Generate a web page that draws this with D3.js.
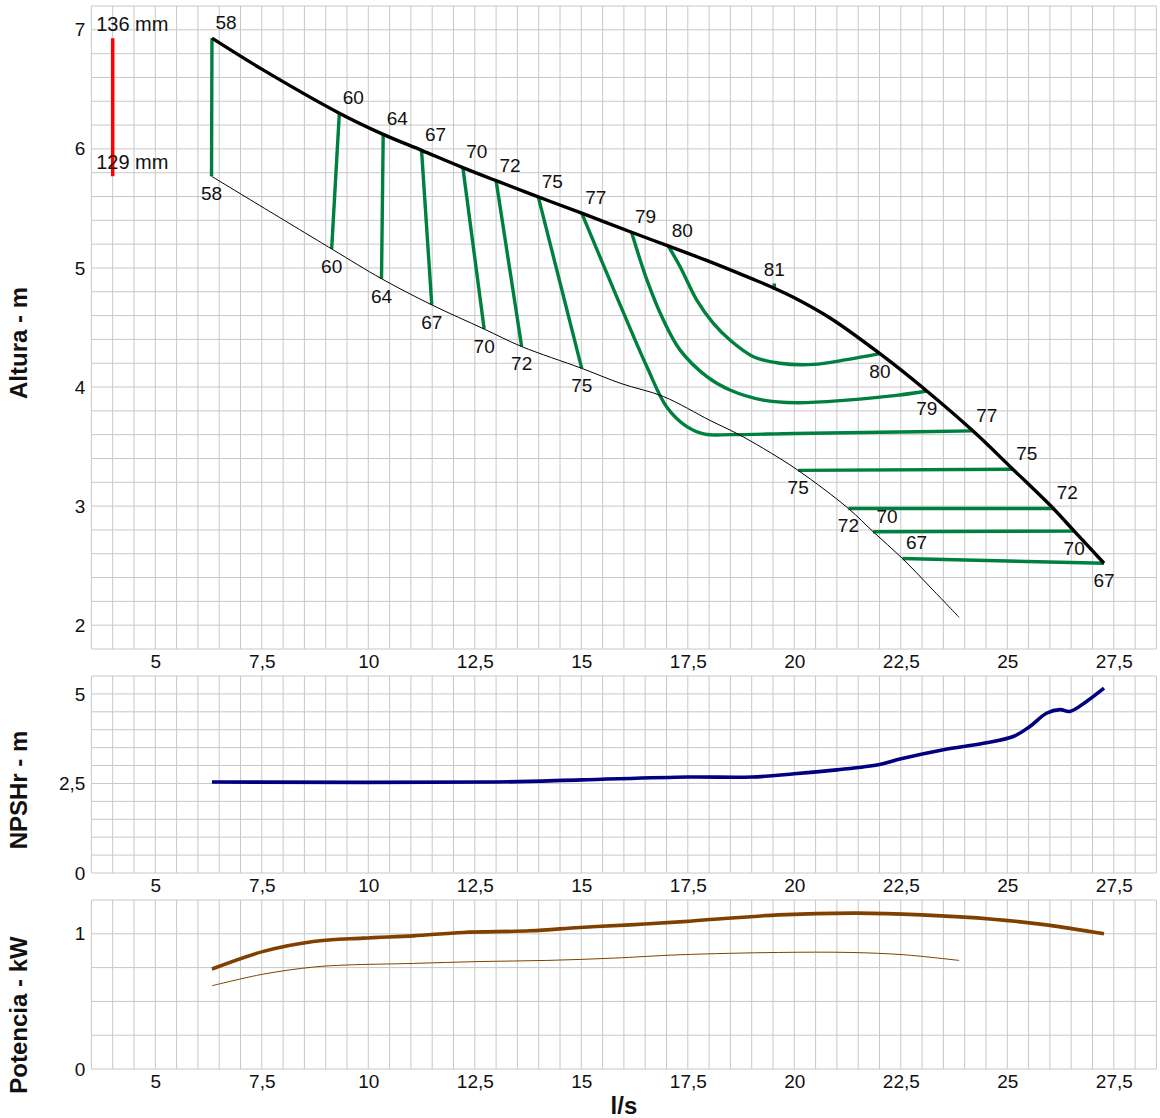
<!DOCTYPE html>
<html><head><meta charset="utf-8">
<script src="https://cdn.jsdelivr.net/npm/d3@7"></script>
<style>
body{margin:0;background:#fff}
svg{display:block}
text{font-family:"Liberation Sans",Arial,Helvetica,sans-serif}
</style>
</head><body>
<svg id="chart" width="1160" height="1118"></svg>
<script>
// ---------- data ----------
const xTicks = [5, 7.5, 10, 12.5, 15, 17.5, 20, 22.5, 25, 27.5];
const headTicks = [2, 3, 4, 5, 6, 7];
const npshTicks = [0, 2.5, 5];
const powerTicks = [0, 1];
const diameters = [136, 129];
const diameterQ = 4.0;

// H-Q curve, max diameter (136 mm)
const headMax = [[6.33,6.93],[7.5,6.67],[9.32,6.30],[10.35,6.122],[11.25,5.988],[12.22,5.843],[13.0,5.733],[13.99,5.597],[15.01,5.46],[16.18,5.30],[17.04,5.185],[18.0,5.055],[19.0,4.91],[19.53,4.83],[20.0,4.75],[20.84,4.58],[22.01,4.28],[23.11,3.967],[24.19,3.632],[25.13,3.31],[26.08,2.98],[26.57,2.79],[27.27,2.52]];
// H-Q curve, min diameter (129 mm)
const headMin = [[6.32,5.77],[9.14,5.16],[10.31,4.91],[11.49,4.69],[12.72,4.487],[13.6,4.34],[15.01,4.157],[15.93,4.03],[16.93,3.92],[18.02,3.72],[18.65,3.61],[19.27,3.485],[20.09,3.30],[21.27,2.98],[21.85,2.785],[22.54,2.56],[23.19,2.32],[23.87,2.066]];

// iso-efficiency lines (%)
const effLevels = [58, 60, 64, 67, 70, 72, 75, 77, 79, 80, 81, 75, 72, 70, 67];
const effLines = [
  [[6.33,6.93],[6.32,5.77]],
  [[9.32,6.30],[9.14,5.16]],
  [[10.35,6.122],[10.31,4.91]],
  [[11.25,5.988],[11.49,4.69]],
  [[12.22,5.843],[12.72,4.487]],
  [[13.0,5.733],[13.6,4.34]],
  [[13.99,5.597],[15.01,4.157]],
  [[15.01,5.46],[15.83,4.76],[16.54,4.17],[17.0,3.835],[17.47,3.67],[17.9,3.605],[18.5,3.60],[20.0,3.61],[22.0,3.62],[24.19,3.632]],
  [[16.18,5.30],[16.54,4.90],[16.93,4.56],[17.32,4.31],[17.94,4.09],[18.49,3.975],[19.27,3.89],[20.06,3.868],[21.23,3.89],[22.4,3.93],[23.11,3.967]],
  [[17.04,5.185],[17.32,5.01],[17.71,4.73],[18.1,4.535],[18.49,4.395],[19.04,4.255],[19.66,4.20],[20.45,4.19],[21.23,4.23],[22.01,4.28]],
  [[19.53,4.87],[19.53,4.82]],
  [[20.09,3.30],[25.13,3.31]],
  [[21.27,2.98],[26.08,2.98]],
  [[21.85,2.785],[26.57,2.79]],
  [[22.54,2.56],[27.27,2.52]]
];
// where the value label sits at [start, end] of each line
const effLabelSides = [
  ["ur","b"],["ur","b"],["ur","b"],["ur","b"],["ur","b"],["ur","b"],["ur","b"],
  ["ur","ur"],["ur","b"],["ur","b"],["u",null],
  ["b","ur"],["b","ur"],["ur","b"],["ur","b"]
];

// NPSHr
const npshQ = [6.33, 13.0, 15.0, 17.5, 19.0, 20.0, 21.0, 22.0, 22.48, 23.5, 24.44, 25.14, 25.53, 25.92, 26.24, 26.47, 26.86, 27.27];
const npshV = [2.54, 2.54, 2.60, 2.68, 2.68, 2.77, 2.88, 3.03, 3.18, 3.44, 3.62, 3.81, 4.09, 4.46, 4.56, 4.51, 4.79, 5.16];

// Power
const powerMaxQ = [6.33, 7.54, 8.71, 9.88, 11.06, 12.23, 13.8, 14.97, 16.14, 17.4, 19.63, 21.47, 22.98, 24.66, 25.92, 27.27];
const powerMaxV = [0.74, 0.87, 0.943, 0.968, 0.985, 1.01, 1.022, 1.047, 1.066, 1.09, 1.14, 1.153, 1.14, 1.108, 1.066, 1.0];
const powerMinQ = [6.33, 7.54, 8.71, 9.49, 11.06, 12.62, 14.19, 15.75, 17.32, 19.63, 21.31, 22.57, 23.87];
const powerMinV = [0.616, 0.702, 0.754, 0.769, 0.781, 0.795, 0.803, 0.82, 0.845, 0.862, 0.862, 0.845, 0.803];

// ---------- drawing ----------
const svg = d3.select("#chart");
const locale = d3.formatLocale({decimal: ",", thousands: ".", grouping: [3], currency: ["", "€"]});
const fmt = locale.format(".1~f");

const X0 = 91.4, X1 = 1156.4;
const x = d3.scaleLinear().domain([3.5, 28.5]).range([X0, X1]);

const GRID = "#c8c8c8";
const FONT = 19;

const panels = [
  {top: 6, bottom: 649, domain: [1.8, 7.2], step: 0.2, ticks: headTicks, title: "Altura - m", titleY: 343},
  {top: 676, bottom: 873, domain: [0, 5.5], step: 0.5, ticks: npshTicks, title: "NPSHr - m", titleY: 790},
  {top: 900, bottom: 1069, domain: [0, 1.25], step: 0.25, ticks: powerTicks, title: "Potencia - kW", titleY: 1015}
];

panels.forEach(p => {
  p.y = d3.scaleLinear().domain(p.domain).range([p.bottom, p.top]);
  const g = svg.append("g");
  // vertical grid
  const xs = d3.range(3.5, 28.5001, 0.5);
  g.selectAll("line.vx").data(xs).join("line")
    .attr("x1", d => x(d)).attr("x2", d => x(d))
    .attr("y1", p.top).attr("y2", p.bottom)
    .attr("stroke", GRID).attr("stroke-width", 1);
  // horizontal grid
  const n = Math.round((p.domain[1] - p.domain[0]) / p.step);
  const ys = d3.range(0, n + 1).map(i => p.domain[0] + i * p.step);
  g.selectAll("line.hy").data(ys).join("line")
    .attr("x1", X0).attr("x2", X1)
    .attr("y1", d => p.y(d)).attr("y2", d => p.y(d))
    .attr("stroke", GRID).attr("stroke-width", 1);

  // x axis labels
  const ax = svg.append("g").attr("transform", `translate(0,${p.bottom})`)
    .call(d3.axisBottom(x).tickValues(xTicks).tickSize(0).tickPadding(4).tickFormat(fmt));
  ax.select(".domain").remove();
  ax.selectAll("text").attr("font-size", FONT).attr("fill", "#111")
    .attr("font-family", '"Liberation Sans",Arial,sans-serif').attr("dy", "0.8em");

  // y axis labels
  const ay = svg.append("g").attr("transform", `translate(${X0},0)`)
    .call(d3.axisLeft(p.y).tickValues(p.ticks).tickSize(0).tickPadding(6).tickFormat(fmt));
  ay.select(".domain").remove();
  ay.selectAll("text").attr("font-size", FONT).attr("fill", "#111")
    .attr("font-family", '"Liberation Sans",Arial,sans-serif');

  // title
  svg.append("text")
    .attr("transform", `translate(27,${p.titleY}) rotate(-90)`)
    .attr("text-anchor", "middle")
    .attr("font-size", 24).attr("font-weight", "bold").attr("fill", "#111")
    .text(p.title);
});

svg.append("text").attr("x", (X0 + X1) / 2).attr("y", 1114)
  .attr("text-anchor", "middle").attr("font-size", 24).attr("font-weight", "bold").attr("fill", "#111")
  .text("l/s");

// ----- head panel -----
const yH = panels[0].y;
const lineH = d3.line().x(d => x(d[0])).y(d => yH(d[1])).curve(d3.curveCatmullRom.alpha(0.5));

// green iso-efficiency lines
const gEff = svg.append("g");
gEff.selectAll("path").data(effLines).join("path")
  .attr("d", lineH).attr("fill", "none")
  .attr("stroke", "#00803f").attr("stroke-width", 3.4);

// head curves
svg.append("path").datum(headMin).attr("d", lineH).attr("fill", "none")
  .attr("stroke", "#000").attr("stroke-width", 1);
svg.append("path").datum(headMax).attr("d", lineH).attr("fill", "none")
  .attr("stroke", "#000").attr("stroke-width", 3.4);

// efficiency labels
const offsets = {ur: [14, -16], b: [0, 17], u: [0, -14]};
const labels = [];
effLines.forEach((pts, i) => {
  const [s, e] = effLabelSides[i];
  if (s) labels.push({p: pts[0], side: s, t: effLevels[i]});
  if (e) labels.push({p: pts[pts.length - 1], side: e, t: effLevels[i]});
});
svg.append("g").selectAll("text").data(labels).join("text")
  .attr("x", d => x(d.p[0]) + offsets[d.side][0])
  .attr("y", d => yH(d.p[1]) + offsets[d.side][1])
  .attr("dy", "0.36em")
  .attr("text-anchor", "middle").attr("font-size", FONT).attr("fill", "#111")
  .text(d => d.t);

// diameter bar
const dTop = headMax[0][1], dBot = headMin[0][1];
svg.append("line")
  .attr("x1", x(diameterQ)).attr("x2", x(diameterQ))
  .attr("y1", yH(dTop)).attr("y2", yH(dBot))
  .attr("stroke", "#ff0000").attr("stroke-width", 3.5);
svg.append("g").selectAll("text").data(diameters).join("text")
  .attr("x", x(diameterQ) - 16.5)
  .attr("y", (d, i) => yH(i === 0 ? dTop : dBot) - 7)
  .attr("font-size", FONT + 1).attr("fill", "#111")
  .text(d => `${d} mm`);

// ----- NPSH panel -----
const yN = panels[1].y;
svg.append("path").datum(npshQ.map((q, i) => [q, npshV[i]]))
  .attr("d", d3.line().x(d => x(d[0])).y(d => yN(d[1])).curve(d3.curveCatmullRom.alpha(0.5)))
  .attr("fill", "none").attr("stroke", "#000080").attr("stroke-width", 3.6);

// ----- Power panel -----
const yP = panels[2].y;
const lineP = d3.line().x(d => x(d[0])).y(d => yP(d[1])).curve(d3.curveCatmullRom.alpha(0.5));
svg.append("path").datum(powerMinQ.map((q, i) => [q, powerMinV[i]]))
  .attr("d", lineP).attr("fill", "none").attr("stroke", "#804000").attr("stroke-width", 1);
svg.append("path").datum(powerMaxQ.map((q, i) => [q, powerMaxV[i]]))
  .attr("d", lineP).attr("fill", "none").attr("stroke", "#804000").attr("stroke-width", 3.6);
</script>
</body></html>
